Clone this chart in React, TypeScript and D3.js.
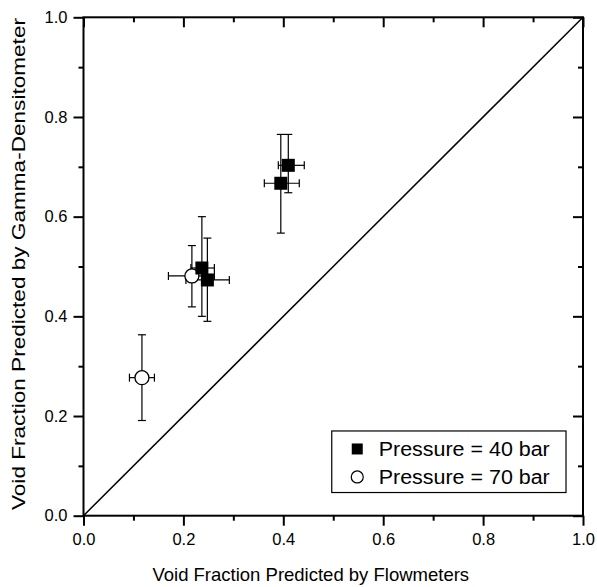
import { useEffect, useRef } from "react";
import * as d3 from "d3";

// x, y, x error range, y error range
const p40 = [
  { x: 0.237, y: 0.497, xLo: 0.215, xHi: 0.262, yLo: 0.4, yHi: 0.6 },
  { x: 0.248, y: 0.473, xLo: 0.205, xHi: 0.292, yLo: 0.39, yHi: 0.557 },
  { x: 0.395, y: 0.667, xLo: 0.362, xHi: 0.432, yLo: 0.567, yHi: 0.765 },
  { x: 0.41, y: 0.703, xLo: 0.39, xHi: 0.442, yLo: 0.648, yHi: 0.765 },
];
const p70 = [
  { x: 0.117, y: 0.277, xLo: 0.092, xHi: 0.142, yLo: 0.191, yHi: 0.363 },
  { x: 0.217, y: 0.481, xLo: 0.17, xHi: 0.262, yLo: 0.419, yHi: 0.542 },
];
const majorTicks = [0, 0.2, 0.4, 0.6, 0.8, 1.0];
const minorTicks = [0.1, 0.3, 0.5, 0.7, 0.9];
const legendLabels = ["Pressure = 40 bar", "Pressure = 70 bar"];

const W = 597;
const H = 587;
const m = { left: 83.5, top: 17.3, right: 14, bottom: 71.3 };
const font = "Arial, 'Liberation Sans', sans-serif";

const App = () => {
  const svgRef = useRef(null);

  useEffect(() => {
    const svg = d3.select(svgRef.current);
    svg.selectAll("*").remove();

    const x = d3.scaleLinear().domain([0, 1]).range([m.left, W - m.right]);
    const y = d3.scaleLinear().domain([0, 1]).range([H - m.bottom, m.top]);

    const fmt = d3.format(".1f");

    // draws one set of ticks; size < 0 points into the plot
    const ticks = (axis, pos, vals, size, labels) => {
      const horiz = axis === d3.axisBottom || axis === d3.axisTop;
      const g = svg.append("g")
        .attr("transform", horiz ? `translate(0,${pos})` : `translate(${pos},0)`)
        .call(axis(horiz ? x : y)
          .tickValues(vals).tickSize(size).tickPadding(labels ? (axis === d3.axisBottom ? 8 : 6) : 3)
          .tickFormat(labels ? fmt : () => ""))
        .call((g) => g.select(".domain").remove())
        .call((g) => g.selectAll("line").attr("stroke-width", 2));
      if (labels) g.selectAll("text").attr("font-size", 16.5).attr("font-family", font).attr("fill", "#000");
    };
    ticks(d3.axisBottom, y(0), majorTicks, 10, true);
    ticks(d3.axisBottom, y(0), minorTicks, 5, false);
    ticks(d3.axisLeft, x(0), majorTicks, 10, true);
    ticks(d3.axisLeft, x(0), minorTicks, 5, false);
    ticks(d3.axisTop, y(1), majorTicks, -10, false);
    ticks(d3.axisTop, y(1), minorTicks, -5, false);
    ticks(d3.axisRight, x(1), majorTicks, -10, false);
    ticks(d3.axisRight, x(1), minorTicks, -5, false);

    // frame
    svg.append("rect")
      .attr("x", x(0)).attr("y", y(1))
      .attr("width", x(1) - x(0)).attr("height", y(0) - y(1))
      .attr("fill", "none").attr("stroke", "#000").attr("stroke-width", 2);

    // 1:1 line
    svg.append("line")
      .attr("x1", x(0)).attr("y1", y(0)).attr("x2", x(1)).attr("y2", y(1))
      .attr("stroke", "#000").attr("stroke-width", 1.5);

    // error bars
    const cap = 4;
    const drawErr = (data) => {
      const g = svg.append("g").attr("stroke", "#000").attr("stroke-width", 1.2);
      data.forEach((d) => {
        g.append("line").attr("x1", x(d.x)).attr("x2", x(d.x)).attr("y1", y(d.yLo)).attr("y2", y(d.yHi));
        g.append("line").attr("x1", x(d.x) - cap).attr("x2", x(d.x) + cap).attr("y1", y(d.yLo)).attr("y2", y(d.yLo));
        g.append("line").attr("x1", x(d.x) - cap).attr("x2", x(d.x) + cap).attr("y1", y(d.yHi)).attr("y2", y(d.yHi));
        g.append("line").attr("x1", x(d.xLo)).attr("x2", x(d.xHi)).attr("y1", y(d.y)).attr("y2", y(d.y));
        g.append("line").attr("x1", x(d.xLo)).attr("x2", x(d.xLo)).attr("y1", y(d.y) - cap).attr("y2", y(d.y) + cap);
        g.append("line").attr("x1", x(d.xHi)).attr("x2", x(d.xHi)).attr("y1", y(d.y) - cap).attr("y2", y(d.y) + cap);
      });
    };
    drawErr(p70);
    drawErr(p40);

    const sq = 13;
    svg.append("g").selectAll("circle").data(p70).join("circle")
      .attr("cx", (d) => x(d.x)).attr("cy", (d) => y(d.y)).attr("r", 7)
      .attr("fill", "#fff").attr("stroke", "#000").attr("stroke-width", 1.3);
    svg.append("g").selectAll("rect").data(p40).join("rect")
      .attr("x", (d) => x(d.x) - sq / 2).attr("y", (d) => y(d.y) - sq / 2)
      .attr("width", sq).attr("height", sq).attr("fill", "#000");

    // legend
    const lx = x(0.497);
    const ly = y(0.17);
    const lw = x(0.966) - lx;
    const lh = y(0.0465) - ly;
    const lg = svg.append("g");
    lg.append("rect").attr("x", lx).attr("y", ly).attr("width", lw).attr("height", lh)
      .attr("fill", "#fff").attr("stroke", "#000").attr("stroke-width", 1.2);
    legendLabels.forEach((t, i) => {
      const cy = ly + 18 + i * 28;
      if (i === 0) {
        lg.append("rect").attr("x", lx + 20).attr("y", cy - 5.5).attr("width", 11).attr("height", 11).attr("fill", "#000");
      } else {
        lg.append("circle").attr("cx", lx + 25.5).attr("cy", cy).attr("r", 6)
          .attr("fill", "#fff").attr("stroke", "#000").attr("stroke-width", 1.2);
      }
      lg.append("text").attr("x", lx + 47).attr("y", cy + 7).attr("font-size", 19.5)
        .attr("font-family", font)
        .attr("textLength", 171).attr("lengthAdjust", "spacingAndGlyphs")
        .text(t);
    });

    // axis titles
    svg.append("text")
      .attr("x", x(0.455)).attr("y", 581)
      .attr("text-anchor", "middle").attr("font-size", 18.5).attr("font-family", font)
      .text("Void Fraction Predicted by Flowmeters");
    svg.append("text")
      .attr("transform", `translate(25,${y(0.505)}) rotate(-90)`)
      .attr("text-anchor", "middle").attr("font-size", 18).attr("font-family", font)
      .attr("textLength", 492).attr("lengthAdjust", "spacingAndGlyphs")
      .text("Void Fraction Predicted by Gamma-Densitometer");
  }, []);

  return (
    <div style={{ position: "absolute", left: 0, top: 0, background: "#fff" }}>
      <svg ref={svgRef} width={W} height={H}></svg>
    </div>
  );
};

export default App;
